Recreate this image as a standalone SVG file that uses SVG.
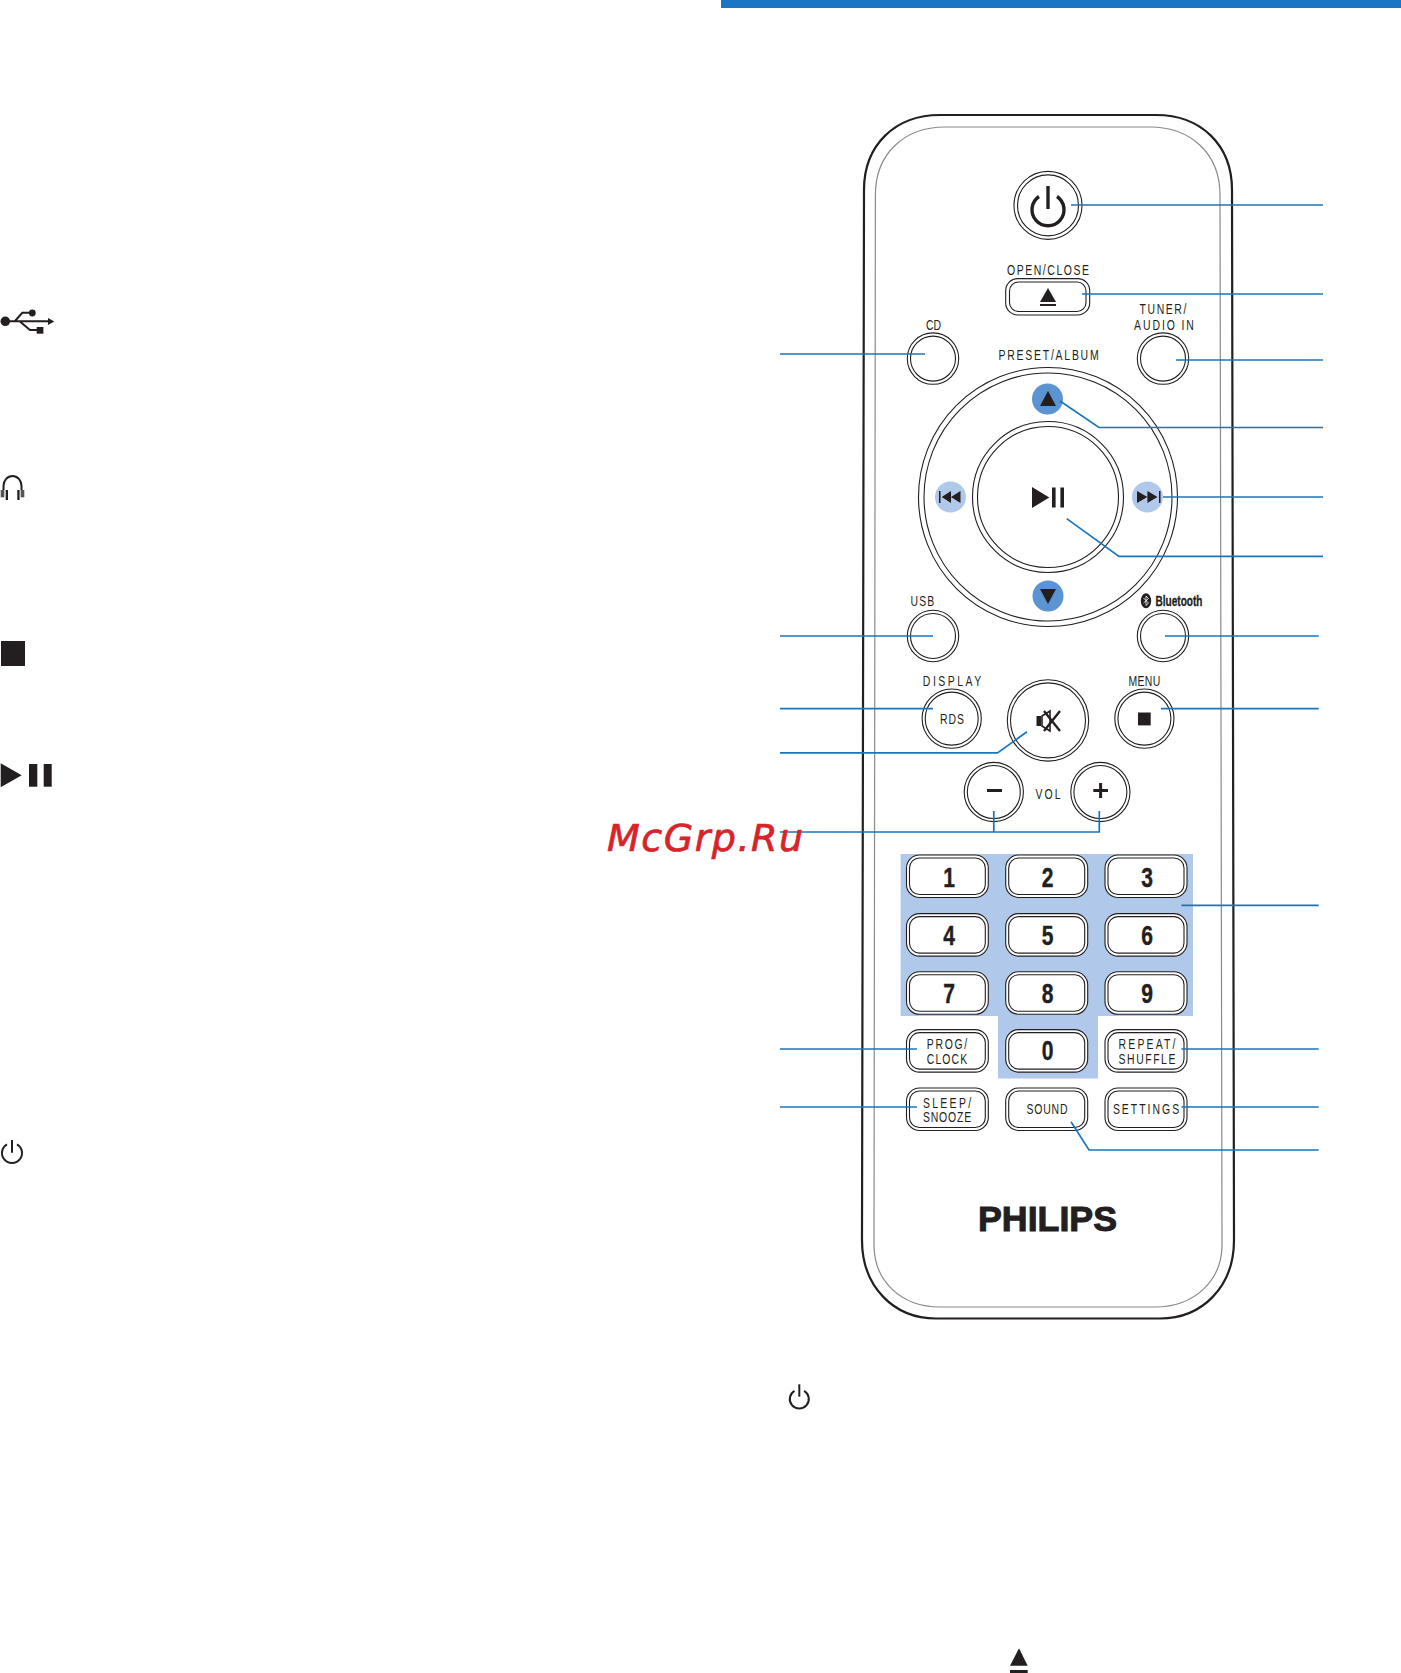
<svg xmlns="http://www.w3.org/2000/svg" width="1401" height="1673" viewBox="0 0 1401 1673">
<defs>
<style>
.bg{fill:#fff}
.k{fill:#231f20}
.o{fill:none;stroke:#231f20;stroke-width:1.1}
.oo{fill:#fff;stroke:#231f20;stroke-width:1.1}
.lb{font-family:"Liberation Sans",sans-serif;font-size:14.5px;fill:#231f20;text-anchor:middle}
.dg{font-family:"Liberation Sans",sans-serif;font-size:27px;font-weight:bold;fill:#231f20;stroke:#231f20;stroke-width:0.4;text-anchor:middle}
.lead{fill:none;stroke:#1a75bc;stroke-width:1.7}
.lt{fill:#b0c8ea}
.dk{fill:#5b93d3}
</style>
</defs>
<rect class="bg" width="1401" height="1673"/>
<rect id="top-bar" x="721" y="0" width="680" height="8" fill="#1a75c4"/>
<g id="remote-body">
<path d="M862 1240 L864 190 C864 145 895 115 940 115 L1156 115 C1201 115 1232 145 1232 190 L1234 1240 C1234 1287 1202 1318.500 1160 1318.500 L936 1318.500 C894 1318.500 862 1287 862 1240 Z" fill="#fff" stroke="#231f20" stroke-width="2.200"/>
<path d="M874 1245 L875.400 195 C875.400 153 905 127 945 127 L1150 127 C1190 127 1220 153 1220 195 L1222 1245 C1222 1280 1195 1307 1155 1307 L940 1307 C900 1307 874 1280 874 1245 Z" fill="none" stroke="#8a8a8a" stroke-width="1.200"/>
</g>
<g id="keypad-bg"><path class="lt" d="M900.600 854H1193V1016H1098V1078.600H998V1016H900.600Z"/></g>
<g id="btn-power"><circle class="o" cx="1048" cy="205.400" r="34"/><circle class="o" cx="1048" cy="205.400" r="30.500"/><path d="M1039 196.500A16 16 0 1 0 1057 196.500" fill="none" stroke="#231f20" stroke-width="3.400"/><path d="M1048 186V209" stroke="#231f20" stroke-width="3.400"/></g>
<g id="btn-open"><text class="lb" transform="translate(1048 274.500) scale(.72 1)" textLength="114">OPEN/CLOSE</text><rect class="oo" x="1005.700" y="278.600" width="84" height="36.400" rx="12"/><rect class="o" x="1009.500" y="282" width="76.500" height="29.500" rx="9"/><path class="k" d="M1048 288L1056 302H1040Z"/><rect class="k" x="1040" y="304" width="16" height="2"/></g>
<g id="btn-cd"><text class="lb" transform="translate(933.500 329.500) scale(.72 1)" textLength="21">CD</text><circle class="o" cx="933" cy="358.600" r="25.700"/><circle class="o" cx="933" cy="358.600" r="22.500"/></g>
<g id="btn-tuner"><text class="lb" transform="translate(1163 313.500) scale(.72 1)" textLength="65">TUNER/</text><text class="lb" transform="translate(1164 329.500) scale(.72 1)" textLength="83">AUDIO IN</text><circle class="o" cx="1163" cy="358.600" r="25.700"/><circle class="o" cx="1163" cy="358.600" r="22.500"/></g>
<g id="btn-preset-ring"><text class="lb" transform="translate(1048.600 359.500) scale(.72 1)" textLength="139">PRESET/ALBUM</text><circle class="o" cx="1048" cy="497" r="129.500"/><circle class="o" cx="1048" cy="497" r="124"/><circle class="o" cx="1048" cy="497" r="75.500"/><circle class="o" cx="1048" cy="497" r="70.500"/></g>
<g id="btn-up"><circle class="dk" cx="1047.500" cy="399" r="15.500"/><path class="k" d="M1048 391L1056 406H1040Z"/></g>
<g id="btn-down"><circle class="dk" cx="1048" cy="596" r="15.500"/><path class="k" d="M1040 589H1056L1048 604Z"/></g>
<g id="btn-prev"><circle class="lt" cx="950.500" cy="497" r="15.500"/><rect class="k" x="939" y="491" width="1.500" height="12"/><path class="k" d="M951 491V503L941.700 497ZM960.500 491V503L951 497Z"/></g>
<g id="btn-next"><circle class="lt" cx="1147.400" cy="497" r="15.500"/><rect class="k" x="1159" y="491" width="1.500" height="12"/><path class="k" d="M1137 491V503L1147.400 497ZM1147.400 491V503L1157.500 497Z"/></g>
<g id="btn-play"><path class="k" d="M1032 487L1049.300 497.500L1032 508Z"/><rect class="k" x="1052" y="487.500" width="3.600" height="20"/><rect class="k" x="1060.400" y="487.500" width="3.600" height="20"/></g>
<g id="btn-usb"><text class="lb" transform="translate(922.400 605.500) scale(.72 1)" textLength="33">USB</text><circle class="o" cx="933" cy="636" r="25.700"/><circle class="o" cx="933" cy="636" r="22.500"/></g>
<g id="btn-bt"><ellipse class="k" cx="1146" cy="600.700" rx="5.200" ry="7.500"/><path d="M1143.500 598L1148.500 603L1146 605.500V596L1148.500 598.500L1143.500 603" fill="none" stroke="#fff" stroke-width="0.800"/><text x="1179" y="606" font-family="Liberation Sans,sans-serif" font-size="15.500" font-weight="bold" fill="#231f20" stroke="#231f20" stroke-width="0.350" text-anchor="middle" textLength="47" lengthAdjust="spacingAndGlyphs">Bluetooth</text><circle class="o" cx="1163" cy="636" r="25.700"/><circle class="o" cx="1163" cy="636" r="22.500"/></g>
<g id="btn-rds"><text class="lb" transform="translate(952 685.500) scale(.72 1)" textLength="81">DISPLAY</text><circle class="o" cx="951.700" cy="718.600" r="29.600"/><circle class="o" cx="951.700" cy="718.600" r="26.500"/><text class="lb" transform="translate(952 724) scale(.72 1)" textLength="33">RDS</text></g>
<g id="btn-mute"><circle class="o" cx="1048" cy="720.400" r="40.700"/><circle class="o" cx="1048" cy="720.400" r="37.500"/><path class="k" d="M1036.500 716H1041V726H1036.500Z"/><path d="M1042 716L1050 711V731L1042 726Z" fill="#fff" stroke="#231f20" stroke-width="1.600"/><path d="M1044 711L1060 731M1060 711L1044 731" stroke="#231f20" stroke-width="2.400"/></g>
<g id="btn-menu"><text class="lb" transform="translate(1144.400 685.500) scale(.72 1)" textLength="44">MENU</text><circle class="o" cx="1144.400" cy="718.600" r="29.600"/><circle class="o" cx="1144.400" cy="718.600" r="26.500"/><rect class="k" x="1138" y="712.500" width="12.700" height="12.900"/></g>
<g id="btn-vol"><circle class="o" cx="993.800" cy="792" r="29.600"/><circle class="o" cx="993.800" cy="792" r="26.500"/><rect class="k" x="987" y="789" width="15" height="3"/><text class="lb" transform="translate(1048 798.500) scale(.72 1)" textLength="35">VOL</text><circle class="o" cx="1100.400" cy="792" r="29.600"/><circle class="o" cx="1100.400" cy="792" r="26.500"/><path d="M1093.300 790.500H1108M1100.600 783V798" stroke="#231f20" stroke-width="3"/></g>
<g id="keys">
<rect class="oo" x="906.500" y="855" width="81.800" height="42.500" rx="13"/><rect class="oo" x="1005.700" y="855" width="82" height="42.500" rx="13"/><rect class="oo" x="1105" y="855" width="82" height="42.500" rx="13"/>
<rect class="o" x="909.500" y="858" width="75.800" height="36.500" rx="10"/><rect class="o" x="1008.700" y="858" width="76" height="36.500" rx="10"/><rect class="o" x="1108" y="858" width="76" height="36.500" rx="10"/>
<rect class="oo" x="906.500" y="913.600" width="81.800" height="42.500" rx="13"/><rect class="oo" x="1005.700" y="913.600" width="82" height="42.500" rx="13"/><rect class="oo" x="1105" y="913.600" width="82" height="42.500" rx="13"/>
<rect class="o" x="909.500" y="916.600" width="75.800" height="36.500" rx="10"/><rect class="o" x="1008.700" y="916.600" width="76" height="36.500" rx="10"/><rect class="o" x="1108" y="916.600" width="76" height="36.500" rx="10"/>
<rect class="oo" x="906.500" y="971.800" width="81.800" height="42.500" rx="13"/><rect class="oo" x="1005.700" y="971.800" width="82" height="42.500" rx="13"/><rect class="oo" x="1105" y="971.800" width="82" height="42.500" rx="13"/>
<rect class="o" x="909.500" y="974.800" width="75.800" height="36.500" rx="10"/><rect class="o" x="1008.700" y="974.800" width="76" height="36.500" rx="10"/><rect class="o" x="1108" y="974.800" width="76" height="36.500" rx="10"/>
<rect class="oo" x="906.500" y="1029.600" width="81.800" height="42.500" rx="13"/><rect class="oo" x="1005.700" y="1029.600" width="82" height="42.500" rx="13"/><rect class="oo" x="1105" y="1029.600" width="82" height="42.500" rx="13"/>
<rect class="o" x="909.500" y="1032.600" width="75.800" height="36.500" rx="10"/><rect class="o" x="1008.700" y="1032.600" width="76" height="36.500" rx="10"/><rect class="o" x="1108" y="1032.600" width="76" height="36.500" rx="10"/>
<rect class="oo" x="906.500" y="1088" width="81.800" height="42.500" rx="13"/><rect class="oo" x="1005.700" y="1088" width="82" height="42.500" rx="13"/><rect class="oo" x="1105" y="1088" width="82" height="42.500" rx="13"/>
<rect class="o" x="909.500" y="1091" width="75.800" height="36.500" rx="10"/><rect class="o" x="1008.700" y="1091" width="76" height="36.500" rx="10"/><rect class="o" x="1108" y="1091" width="76" height="36.500" rx="10"/>
<text class="dg" transform="translate(949 887) scale(.78 1)">1</text><text class="dg" transform="translate(1047.500 887) scale(.78 1)">2</text><text class="dg" transform="translate(1147 887) scale(.78 1)">3</text>
<text class="dg" transform="translate(949 945) scale(.78 1)">4</text><text class="dg" transform="translate(1047.500 945) scale(.78 1)">5</text><text class="dg" transform="translate(1147 945) scale(.78 1)">6</text>
<text class="dg" transform="translate(949 1002.500) scale(.78 1)">7</text><text class="dg" transform="translate(1047.500 1002.500) scale(.78 1)">8</text><text class="dg" transform="translate(1147 1002.500) scale(.78 1)">9</text>
<text class="dg" transform="translate(1047.500 1059.500) scale(.78 1)">0</text>
<text class="lb" transform="translate(947 1049) scale(.72 1)" textLength="56">PROG/</text><text class="lb" transform="translate(947 1064) scale(.72 1)" textLength="56">CLOCK</text>
<text class="lb" transform="translate(1147 1049) scale(.72 1)" textLength="79">REPEAT/</text><text class="lb" transform="translate(1147 1064) scale(.72 1)" textLength="79">SHUFFLE</text>
<text class="lb" transform="translate(947 1107.500) scale(.72 1)" textLength="67">SLEEP/</text><text class="lb" transform="translate(947 1122) scale(.72 1)" textLength="67">SNOOZE</text>
<text class="lb" transform="translate(1047 1114) scale(.72 1)" textLength="57">SOUND</text><text class="lb" transform="translate(1146 1114) scale(.72 1)" textLength="92">SETTINGS</text>
</g>
<g id="philips"><text x="1047.500" y="1231" font-family="Liberation Sans,sans-serif" font-size="34.500" font-weight="bold" fill="#231f20" stroke="#231f20" stroke-width="1" text-anchor="middle" textLength="139" lengthAdjust="spacingAndGlyphs">PHILIPS</text></g>
<g id="connectors">
<path class="lead" d="M1071 205H1323"/>
<path class="lead" d="M1082 294H1323"/>
<path class="lead" d="M780 354H925"/>
<path class="lead" d="M1176 360H1323"/>
<path class="lead" d="M1060 401L1099 427.500H1323"/>
<path class="lead" d="M1163 497H1323"/>
<path class="lead" d="M1066.700 518.600L1119 556.400H1323"/>
<path class="lead" d="M780 636H933"/>
<path class="lead" d="M1165 636H1318.700"/>
<path class="lead" d="M780 708.600H933"/>
<path class="lead" d="M1161 708.600H1318.700"/>
<path class="lead" d="M1027 731.800L997.500 752.900H780"/>
<path class="lead" d="M780 832H1099.300V811M993.800 832V811"/>
<path class="lead" d="M1181.400 905.400H1318.700"/>
<path class="lead" d="M780 1049H917"/>
<path class="lead" d="M1181.400 1049H1318.700"/>
<path class="lead" d="M780 1107H917"/>
<path class="lead" d="M1181.400 1107H1318.700"/>
<path class="lead" d="M1071 1121.800L1089 1150H1318.700"/>
</g>
<g id="left-icons">
<g id="icon-usb"><circle class="k" cx="5.300" cy="321.300" r="4.800"/><path d="M5 321.300H49M15 321L22.300 312.800H30M19.300 321L30 330H37" fill="none" stroke="#231f20" stroke-width="2"/><circle class="k" cx="32.300" cy="313" r="3.400"/><rect class="k" x="36.700" y="327" width="6.700" height="6.700"/><path class="k" d="M48 318L54.300 321.500L48 325Z"/></g>
<g id="icon-headphones"><path d="M3.500 490V486A9 10 0 0 1 21.500 486V490" fill="none" stroke="#231f20" stroke-width="2"/><rect x="0.700" y="490" width="3.600" height="7.300" fill="#555"/><rect class="k" x="5.700" y="490" width="2.300" height="10"/><rect class="k" x="17.300" y="490" width="2.300" height="10"/><rect x="20.700" y="490" width="3.600" height="7.300" fill="#555"/></g>
<rect id="icon-stop" class="k" x="1" y="641" width="24" height="25"/>
<g id="icon-play"><path class="k" d="M0.700 763.300L21.700 775.300L0.700 787.300Z"/><rect class="k" x="29" y="764" width="8.300" height="22.700"/><rect class="k" x="43.700" y="764" width="8" height="22.700"/></g>
<g id="icon-standby"><path d="M7 1144.300A10 10 0 1 0 17 1144.300" fill="none" stroke="#231f20" stroke-width="2"/><path d="M12 1140V1152.700" stroke="#231f20" stroke-width="2"/></g>
</g>
<g id="text-icons">
<g id="icon-standby2"><path d="M794.500 1390.800A9.500 9.500 0 1 0 804.100 1390.800" fill="none" stroke="#231f20" stroke-width="2"/><path d="M799.300 1384.300V1396.700" stroke="#231f20" stroke-width="2"/></g>
<g id="icon-eject"><path class="k" d="M1019 1648.300L1027.700 1665.700H1010Z"/><rect class="k" x="1010" y="1670" width="17.700" height="3"/></g>
</g>
<text id="watermark" x="607" y="851" font-family="DejaVu Sans,sans-serif" font-style="italic" font-size="38" fill="#d8232a" stroke="#d8232a" stroke-width="0.700" textLength="196">McGrp.Ru</text>
</svg>
